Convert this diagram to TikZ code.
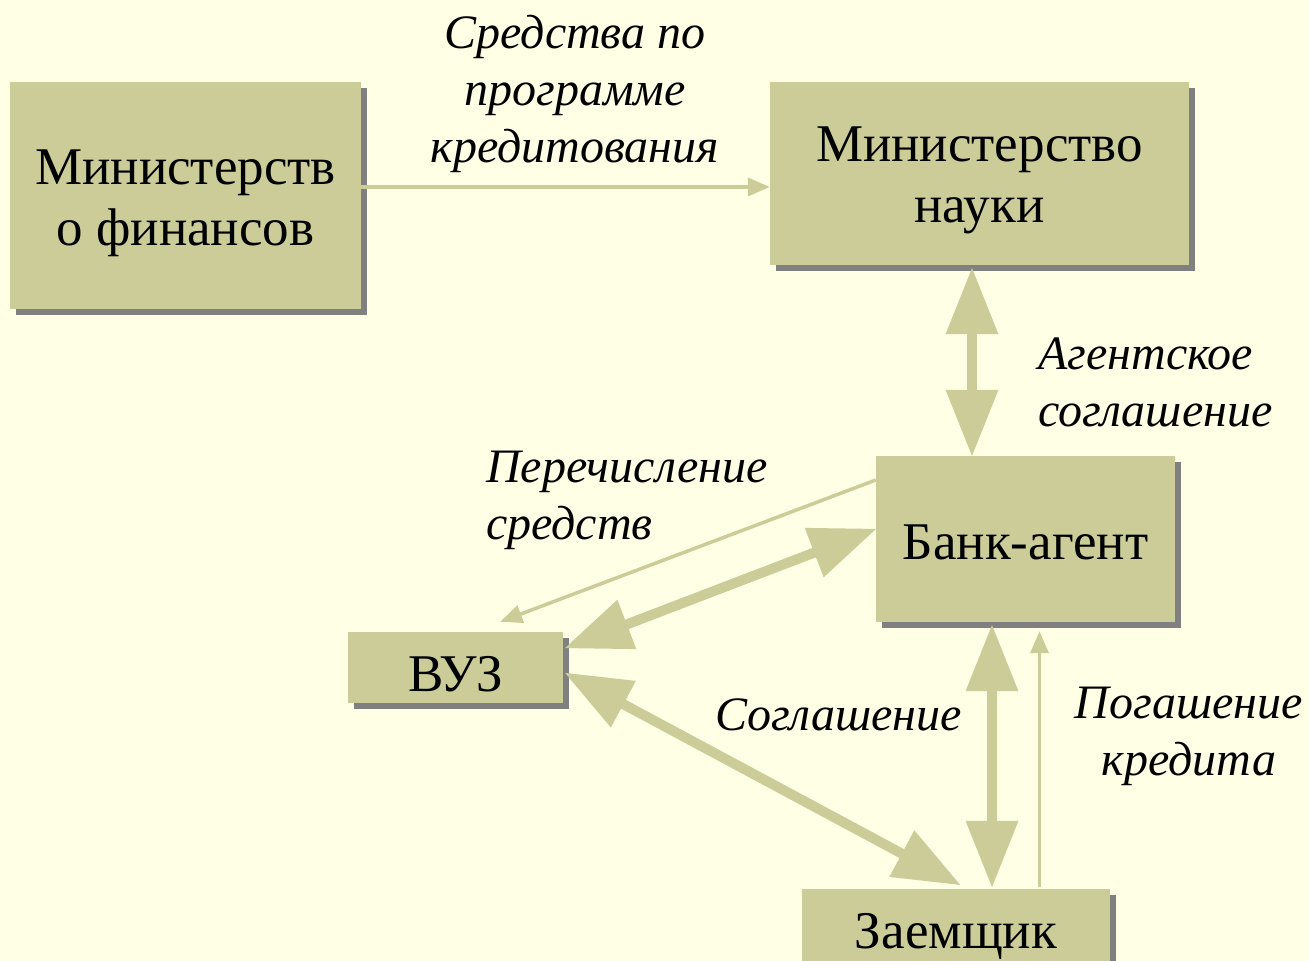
\documentclass[tikz,border=0pt]{standalone}
\usepackage{fontspec}
\setmainfont{Liberation Serif}
\usetikzlibrary{arrows.meta,shadows}
\definecolor{bgc}{HTML}{FFFFE5}
\definecolor{boxc}{HTML}{CCCC99}
\definecolor{shc}{HTML}{808080}
\tikzset{
  box/.style={fill=boxc, draw=none, inner sep=0pt,
    general shadow={fill=shc, shadow xshift=6pt, shadow yshift=-6pt}},
  boxtext/.style={inner sep=0pt, align=center, font=\fontsize{53}{61}\selectfont},
  lbl/.style={font=\fontsize{48}{57}\selectfont\itshape, inner sep=0pt},
  thinarrow/.style={draw=boxc, line width=3.5pt, -{Triangle[width=18pt,length=22pt]}},
  bigarrow/.style={draw=boxc, line width=10pt, {Triangle[width=50pt,length=67pt]}-{Triangle[width=50pt,length=67pt]}, shorten <=-1pt, shorten >=-1pt}
}
\begin{document}
\begin{tikzpicture}[x=1pt,y=-1pt]
\fill[bgc] (0,0) rectangle (1309,961);
\useasboundingbox (0,0) rectangle (1309,961);
\node[box, minimum width=351pt, minimum height=227pt] (fin) at (185.5,195.5) {};
\node[box, minimum width=419pt, minimum height=183pt] (sci) at (979.5,173.5) {};
\node[box, minimum width=299pt, minimum height=166pt] (bank) at (1025.5,539) {};
\node[box, minimum width=215pt, minimum height=71pt] (vuz) at (455.5,667.5) {};
\node[box, minimum width=308pt, minimum height=86pt] (zaem) at (956,932) {};
\node[boxtext] (fint) at ([yshift=-8pt]fin.center) {Министерств\\о финансов};
\node[boxtext] (scit) at ([yshift=-7pt]sci.center) {Министерство\\науки};
\node[boxtext] (bankt) at ([yshift=-3pt]bank.center) {Банк-агент};
\node[boxtext] (vuzt) at ([yshift=-7pt]vuz.center) {ВУЗ};
\node[boxtext] (zaemt) at ([yshift=-4pt]zaem.center) {Заемщик};
% arrows
\draw[thinarrow] ([yshift=8.5pt]fin.east) -- ([yshift=8.5pt]fin.east -| sci.west);
\draw[bigarrow] ([xshift=-7.5pt,yshift=-3pt]sci.south) -- ([xshift=-7.5pt]sci.south |- bank.north);
\draw[bigarrow] ([yshift=10pt]bank.west) -- ([xshift=2pt,yshift=19.5pt]vuz.east);
\draw[bigarrow] ([xshift=2pt,yshift=-5.5pt]vuz.east) -- ([xshift=4pt,yshift=4pt]zaem.north);
\draw[bigarrow] ([xshift=-33.5pt,yshift=-3pt]bank.south) -- ([xshift=-33.5pt,yshift=2pt]bank.south |- zaem.north);
\draw[thinarrow] ([xshift=14pt,yshift=2pt]bank.south |- zaem.north) -- ([xshift=14pt,yshift=-9pt]bank.south);
\draw[thinarrow] ([yshift=59pt]bank.west) -- ([xshift=-63pt,yshift=10pt]vuz.north east);
% labels
\node[lbl, align=center] (l1) at (575,94) {Средства по\\программе\\кредитования};
\node[lbl, align=left, anchor=west] (l2) at (1038,382) {Агентское\\соглашение};
\node[lbl, align=left, anchor=west] (l3) at (486,500) {Перечисление\\средств};
\node[lbl, anchor=west] (l4) at (715,715) {Соглашение};
\node[lbl, align=center] (l5) at (1189,736) {Погашение\\кредита};
\end{tikzpicture}
\end{document}
